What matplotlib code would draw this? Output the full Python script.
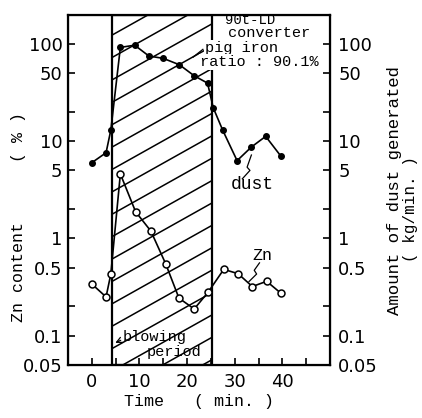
import numpy as np
import matplotlib
matplotlib.use("Agg")
import matplotlib.pyplot as plt
from matplotlib.ticker import FixedLocator, NullFormatter

# dust generation (kg/min) - filled circles
dust_t = [0, 3, 4, 6, 9, 12, 15, 18.4, 21.5, 24.3, 25.5, 27.5, 30.5, 33.5, 36.5, 39.7]
dust_v = [6.0, 7.6, 13, 92, 97, 75, 71, 61, 47, 39.5, 22, 12.9, 6.3, 8.7, 11.2, 7.0]

# Zn content of dust (%) - open circles
zn_t = [0, 3, 4, 6, 9.2, 12.4, 15.5, 18.3, 21.5, 24.4, 27.7, 30.7, 33.7, 36.7, 39.7]
zn_v = [0.34, 0.25, 0.43, 4.6, 1.88, 1.19, 0.55, 0.243, 0.188, 0.279, 0.48, 0.434, 0.32, 0.362, 0.273]

blow_start, blow_end = 4.2, 25.3
y_major = [100, 50, 10, 5, 1, 0.5, 0.1, 0.05]
y_labels = ['100', '50', '10', '5', '1', '0.5', '0.1', '0.05']
y_minor = [20, 2, 0.2]
x_ticks = [0, 10, 20, 30, 40]

mono = 'Liberation Mono'

fig = plt.figure(figsize=(4.22, 4.18), dpi=100)
ax = fig.add_axes([0.161, 0.127, 0.621, 0.837])
ax.set_yscale('log')
ax.set_xlim(-4.2, 48.2)
ax.set_ylim(0.05, 198)

# blowing period box with slanted hatching
span = ax.axvspan(blow_start, blow_end, fill=False, ec='black', lw=1.6, zorder=2)
for c in np.arange(-0.6, 1.0, 0.064):
    ln, = ax.plot([0, 1], [c, c + 0.42], transform=ax.transAxes, color='black', lw=1.1, zorder=1)
    ln.set_clip_path(span)

ax.plot(dust_t, dust_v, '-o', color='black', lw=1.2, ms=4, zorder=3)
ax.plot(zn_t, zn_v, '-o', color='black', mfc='white', mew=1.1, lw=1.2, ms=5, zorder=3)

for s in ax.spines.values():
    s.set_linewidth(1.6)

ax.yaxis.set_major_locator(FixedLocator(y_major))
ax.set_yticklabels(y_labels)
ax.yaxis.set_minor_locator(FixedLocator(y_minor))
ax.yaxis.set_minor_formatter(NullFormatter())
ax.set_xticks(x_ticks)
ax.set_xticks([-5 + 5 * i for i in range(12)], minor=True)
ax.tick_params(axis='both', which='both', direction='in', length=5, width=1.2, labelsize=13)
ax.tick_params(axis='y', pad=4)
ax.tick_params(axis='x', pad=6)

ax2 = ax.twinx()
ax2.set_yscale('log')
ax2.set_ylim(ax.get_ylim())
ax2.yaxis.set_major_locator(FixedLocator(y_major))
ax2.set_yticklabels(y_labels)
ax2.yaxis.set_minor_locator(FixedLocator(y_minor))
ax2.yaxis.set_minor_formatter(NullFormatter())
ax2.tick_params(axis='y', which='both', direction='in', length=5, width=1.2, labelsize=13, pad=6)

ax.set_xlabel('Time   ( min. )', fontsize=12, family=mono, labelpad=2)
fig.text(0.045, 0.48, 'Zn content      ( % )', rotation=90, fontsize=12,
         family=mono, ha='center', va='center')
fig.text(0.935, 0.545, 'Amount of dust generated', rotation=90, fontsize=12.5,
         family=mono, ha='center', va='center')
fig.text(0.972, 0.50, '( kg/min. )', rotation=90, fontsize=11.5,
         family=mono, ha='center', va='center')

# annotations
wb = dict(facecolor='white', edgecolor='none', pad=0.5)
ax.text(0.599, 0.985, '90t-LD', fontsize=10, family=mono, ha='left', va='center',
        transform=ax.transAxes, zorder=4)
ax.text(0.611, 0.949, 'converter', fontsize=11, family=mono, ha='left', va='center',
        transform=ax.transAxes, bbox=wb, zorder=4)
ax.text(0.523, 0.906, 'pig iron', fontsize=11, family=mono, ha='left', va='center',
        transform=ax.transAxes, bbox=wb, zorder=4)
ax.text(0.504, 0.866, 'ratio : 90.1%', fontsize=11, family=mono, ha='left', va='center',
        transform=ax.transAxes, bbox=wb, zorder=4)
ax.plot([0.478, 0.515], [0.88, 0.902], transform=ax.transAxes, color='black', lw=0.9, zorder=4)

ax.text(29.2, 3.6, 'dust', fontsize=13, family=mono, ha='left', va='center')
ax.plot([33.5, 32.6, 33.2, 31.6], [7.2, 5.4, 5.0, 4.1], color='black', lw=0.9)
ax.text(33.8, 0.66, 'Zn', fontsize=12, family=mono, ha='left', va='center')
ax.plot([35.2, 34.1, 34.6, 33.0], [0.56, 0.47, 0.43, 0.36], color='black', lw=0.9)

ax.text(6.5, 0.096, 'blowing', fontsize=11, family=mono, ha='left', va='center')
ax.text(11.5, 0.068, 'period', fontsize=11, family=mono, ha='left', va='center')
ax.annotate('', xy=(4.4, 0.082), xytext=(6.6, 0.092),
            arrowprops=dict(arrowstyle='->', color='black', lw=0.9))

fig.savefig('out.png', dpi=100)
